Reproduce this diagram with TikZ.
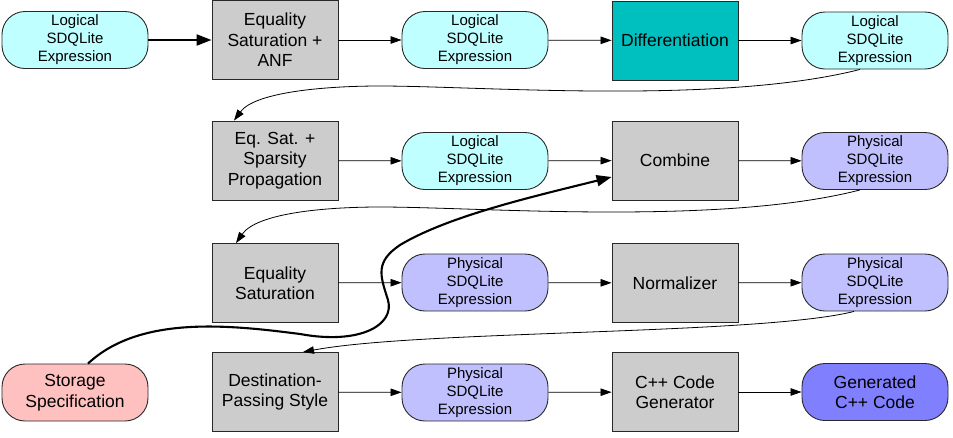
\documentclass[tikz,border=0pt]{standalone}
\usepackage{fontspec}
\setmainfont{Liberation Sans}
\usetikzlibrary{arrows.meta,calc}

\definecolor{boxgray}{RGB}{204,204,204}
\definecolor{logcyan}{RGB}{192,255,255}
\definecolor{physblue}{RGB}{192,192,255}
\definecolor{genblue}{RGB}{128,128,255}
\definecolor{storepink}{RGB}{255,192,192}
\definecolor{diffteal}{RGB}{0,191,191}
\definecolor{edge}{RGB}{40,40,40}

\begin{document}
\begin{tikzpicture}[x=1pt,y=-1pt,
  stage/.style={draw=edge, line width=0.9pt, fill=boxgray,
    minimum width=126pt, minimum height=79pt, inner sep=0pt,
    align=center, font=\fontsize{17.5}{20.5}\selectfont},
  pill/.style={draw=edge, line width=0.9pt, rounded corners=23pt,
    minimum width=146pt, minimum height=57pt, inner sep=0pt,
    align=center, font=\fontsize{15}{18}\selectfont},
  logical/.style={pill, fill=logcyan},
  physical/.style={pill, fill=physblue},
  flow/.style={-{Triangle[length=11pt,width=7.5pt]}, line width=0.8pt, draw=black},
  boldflow/.style={-{Triangle[length=15pt,width=11pt]}, line width=2.1pt, draw=black}
]
\useasboundingbox (0,0) rectangle (953,437);

% row 1
\node[logical] (L1) at (75,40) {Logical\\SDQLite\\Expression};
\node[stage] (A1) at (275,40) {Equality\\Saturation +\\ANF};
\node[logical] (L2) at (475,40) {Logical\\SDQLite\\Expression};
\node[stage, fill=diffteal] (D) at (675,40.5) {Differentiation};
\node[logical] (L3) at (875,40.5) {Logical\\SDQLite\\Expression};

% row 2
\node[stage] (B2) at (275,160.5) {Eq. Sat. +\\Sparsity\\Propagation};
\node[logical] (L4) at (475,161) {Logical\\SDQLite\\Expression};
\node[stage] (C) at (675,160.5) {Combine};
\node[physical] (P1) at (875,161) {Physical\\SDQLite\\Expression};

% row 3
\node[stage] (B3) at (275,283) {Equality\\Saturation};
\node[physical] (P2) at (475,282.5) {Physical\\SDQLite\\Expression};
\node[stage] (N) at (675,283) {Normalizer};
\node[physical] (P3) at (875,282.5) {Physical\\SDQLite\\Expression};

% row 4
\node[pill, fill=storepink, font=\fontsize{17.5}{20.5}\selectfont] (S) at (75,392.5) {Storage\\Specification};
\node[stage] (B4) at (275,392) {Destination-\\Passing Style};
\node[physical] (P4) at (475,392.5) {Physical\\SDQLite\\Expression};
\node[stage] (G) at (675,392) {C++ Code\\Generator};
\node[pill, fill=genblue, font=\fontsize{17.5}{20.5}\selectfont] (Gen) at (875,392) {Generated\\C++ Code};

% straight connectors
\draw[boldflow] (L1) -- (A1);
\draw[flow] (A1) -- (L2);
\draw[flow] (L2) -- (D);
\draw[flow] (D) -- (L3);
\draw[flow] (B2) -- (L4);
\draw[flow] (L4) -- (C);
\draw[flow] (C) -- (P1);
\draw[flow] (B3) -- (P2);
\draw[flow] (P2) -- (N);
\draw[flow] (N) -- (P3);
\draw[flow] (B4) -- (P4);
\draw[flow] (P4) -- (G);
\draw[flow] (G) -- (Gen);

% wrap-around connectors between rows
\draw[flow] ($(L3.south)+(-15,0)$) .. controls (720,105) and (480,86) .. (380,86)
  .. controls (325,86) and (255,92) .. ($(B2.north)+(-41,0)$);
\draw[flow] ($(P1.south)+(-15,0)$) .. controls (720,226) and (480,207) .. (380,207)
  .. controls (325,207) and (257,213) .. ($(B3.north)+(-39,0)$);
\draw[flow] ($(P3.south)+(-21,0)$) .. controls (760,335) and (420,330) .. ($(B4.north)+(28,0)$);

% storage specification feeds the combine stage
\draw[boldflow] ($(S.north)+(13,0)$) .. controls (140,315) and (230,325) .. (300,334)
  .. controls (360,345) and (395,325) .. (388,300)
  .. controls (380,275) and (375,262) .. (400,245)
  .. controls (450,215) and (540,195) .. ($(C.west)+(0,16.5)$);
\end{tikzpicture}
\end{document}
